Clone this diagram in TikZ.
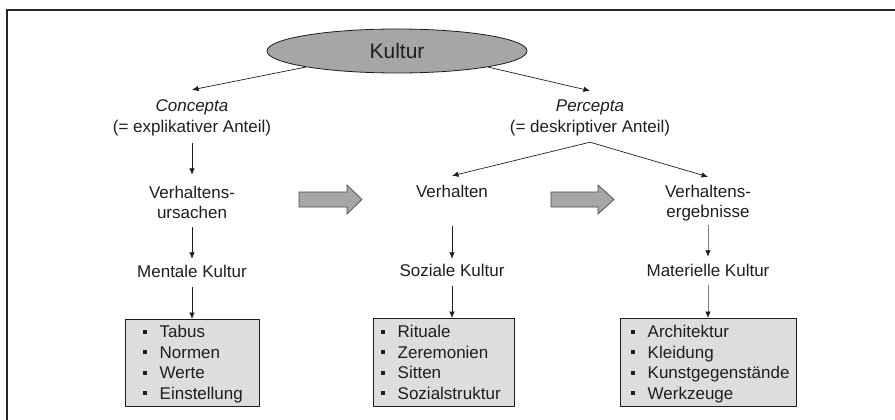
\documentclass[tikz,border=0pt]{standalone}
\usepackage{fontspec}
\setmainfont{Liberation Sans}
\usetikzlibrary{arrows.meta,shapes.geometric}
\definecolor{txt}{HTML}{1E1E1E}
\definecolor{ellfill}{HTML}{A6A6A6}
\definecolor{boxfill}{HTML}{DDDDDD}
\definecolor{grayline}{HTML}{808080}
\newcommand\itm[1]{\makebox[16.5pt][l]{\raisebox{4pt}{\rule{4pt}{4pt}}}#1}
\begin{document}
\begin{tikzpicture}[x=1pt,y=-1pt,
 lbl/.style={font=\fontsize{17}{20}\selectfont, text=txt, inner sep=0pt, text height=12.5pt, text depth=3.5pt, anchor=base},
 item/.style={lbl, anchor=base west},
 arr/.style={line width=0.7pt, draw=txt, -{Latex[length=6.5pt,width=5.5pt]}},
 garr/.style={line width=0.7pt, draw=grayline, -{Latex[length=6.5pt,width=5.5pt,color=txt]}},
 listbox/.style={draw=txt, line width=0.8pt, fill=boxfill, anchor=north west, inner sep=0pt},
 blk/.style={draw=txt!80, line width=0.7pt, fill=ellfill},
 kult/.style={ellipse, draw=txt, line width=0.8pt, fill=ellfill, minimum width=260pt, minimum height=44pt, inner sep=0pt, font=\fontsize{21}{25}\selectfont, text=txt},
]
\useasboundingbox (0,0) rectangle (895,420);
% frame
\draw[line width=2pt, draw=black!85] (7,440) -- (7,10) -- (910,10);

% top node
\node[kult] (kultur) at (397,51) {Kultur};

% left column
\node[lbl] (c1) at (192,111) {\textit{Concepta}};
\node[lbl] (c2) at (192,132) {(= explikativer Anteil)};
\node[lbl] (v1a) at (192,198) {Verhaltens-};
\node[lbl] (v1b) at (192,218) {ursachen};
\node[lbl] (m1) at (192,277) {Mentale Kultur};
\node[listbox, minimum width=134pt, minimum height=87pt] (box1) at (125,319) {};
\node[item] (b1a) at (143,337.5) {\itm{Tabus}};
\node[item] (b1b) at (143,358) {\itm{Normen}};
\node[item] (b1c) at (143,378.5) {\itm{Werte}};
\node[item] (b1d) at (143,399) {\itm{Einstellung}};

% middle column
\node[lbl] (p1) at (590,111) {\textit{Percepta}};
\node[lbl] (p2) at (590,132) {(= deskriptiver Anteil)};
\coordinate (split) at ([yshift=-6.5pt]p2.south);
\node[lbl] (v2) at (452,197) {Verhalten};
\node[lbl] (m2) at (452,276) {Soziale Kultur};
\node[listbox, minimum width=141pt, minimum height=88pt] (box2) at (373,318) {};
\node[item] (b2a) at (381,337.5) {\itm{Rituale}};
\node[item] (b2b) at (381,358) {\itm{Zeremonien}};
\node[item] (b2c) at (381,378.5) {\itm{Sitten}};
\node[item] (b2d) at (381,399) {\itm{Sozialstruktur}};

% right column
\node[lbl] (v3a) at (708,197) {Verhaltens-};
\node[lbl] (v3b) at (708,217) {ergebnisse};
\node[lbl] (m3) at (708,276.5) {Materielle Kultur};
\node[listbox, minimum width=176pt, minimum height=88pt] (box3) at (620,318) {};
\node[item] (b3a) at (631,337.5) {\itm{Architektur}};
\node[item] (b3b) at (631,358) {\itm{Kleidung}};
\node[item] (b3c) at (631,378.5) {\itm{Kunstgegenstände}};
\node[item] (b3d) at (631,399) {\itm{Werkzeuge}};

% connectors
\draw[arr] (kultur.190) -- ([yshift=8.5pt]c1.north);
\draw[arr] (kultur.350) -- ([yshift=7.5pt]p1.north);
\draw[arr] ([yshift=-7.5pt]c2.south) -- ([yshift=10.5pt]v1a.north);
\draw[arr] ([yshift=-5.5pt]v1b.south) -- ([yshift=5.5pt]m1.north);
\draw[arr] ([yshift=-6.5pt]m1.south) -- (m1.south |- box1.north);
\draw[arr] (split) -- ([yshift=8.5pt]v2.north);
\draw[arr] (split) -- ([yshift=7.5pt]v3a.north);
\draw[arr] ([yshift=-25.5pt]v2.south) -- ([yshift=4.5pt]m2.north);
\draw[arr] ([yshift=-6.5pt]m2.south) -- (m2.south |- box2.north);
\draw[garr] ([yshift=-4.5pt]v3b.south) -- ([yshift=7pt]m3.north);
\draw[garr] ([yshift=-5pt]m3.south) -- (m3.south |- box3.north);

% block arrows
\draw[blk] (299,192) -- (347,192) -- (347,185) -- (362,199.5) -- (347,214) -- (347,207) -- (299,207) -- cycle;
\draw[blk] (551,192) -- (598,192) -- (598,185) -- (614,199.5) -- (598,214) -- (598,207) -- (551,207) -- cycle;
\end{tikzpicture}
\end{document}
